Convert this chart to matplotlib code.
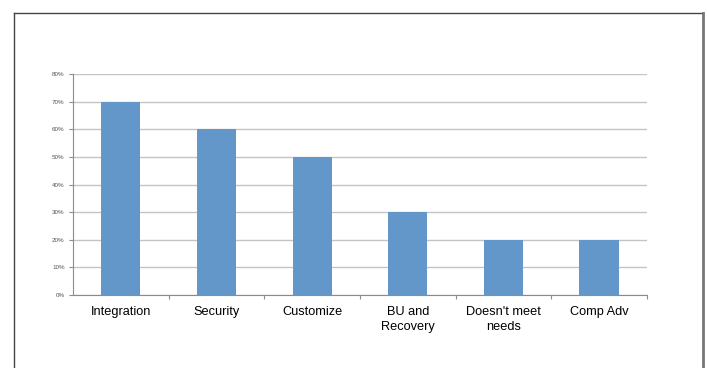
import matplotlib.pyplot as plt
from matplotlib.lines import Line2D
from matplotlib.ticker import FixedLocator, PercentFormatter

categories: list[str] = [
    "Integration",
    "Security",
    "Customize",
    "BU and\nRecovery",
    "Doesn't meet\nneeds",
    "Comp Adv",
]
shares: list[float] = [0.70, 0.60, 0.50, 0.30, 0.20, 0.20]
y_ticks: list[float] = [0.0, 0.1, 0.2, 0.3, 0.4, 0.5, 0.6, 0.7, 0.8]

plt.rcParams["font.family"] = ["Liberation Sans", "DejaVu Sans"]

fig = plt.figure(figsize=(7.07, 3.68), dpi=100)
ax = fig.add_axes([0.1033, 0.198, 0.8117, 0.601])

positions = list(range(len(categories)))
ax.bar(positions, shares, width=0.41, color="#6497C9", zorder=3)

ax.set_xlim(-0.5, len(categories) - 0.5)
ax.set_ylim(0, 0.8)
ax.set_yticks(y_ticks)
ax.yaxis.set_major_formatter(PercentFormatter(1.0, decimals=0))
ax.grid(axis="y", color="#C4C4C4", linewidth=1.0, zorder=0)

# category labels centred under bars, tick marks between categories
ax.set_xticks(positions)
ax.set_xticklabels(categories, fontsize=9.2, linespacing=1.3)
ax.tick_params(axis="x", which="major", length=0, pad=8)
ax.xaxis.set_minor_locator(FixedLocator([p + 0.5 for p in positions]))
ax.tick_params(axis="x", which="minor", length=3, color="#8C8C8C", width=0.8)
ax.tick_params(axis="y", length=3, color="#8C8C8C", width=0.8,
               labelsize=4.5, labelcolor="#555555", pad=3)

for side in ("top", "right"):
    ax.spines[side].set_visible(False)
for side in ("left", "bottom"):
    ax.spines[side].set_color("#8C8C8C")
    ax.spines[side].set_linewidth(0.8)

# outer frame: left, top and right edges only
w, h = 707, 368
x0, x1 = 13.5 / w, 702.5 / w
y_top = 1 - 12.5 / h
fig.add_artist(Line2D([x0, x0], [0, y_top], color="#444444", lw=1.0))
fig.add_artist(Line2D([x0, x1], [y_top, y_top], color="#444444", lw=1.0))
fig.add_artist(Line2D([x1, x1], [0, y_top], color="#777777", lw=2.0))

fig.savefig("out.png", dpi=100)
